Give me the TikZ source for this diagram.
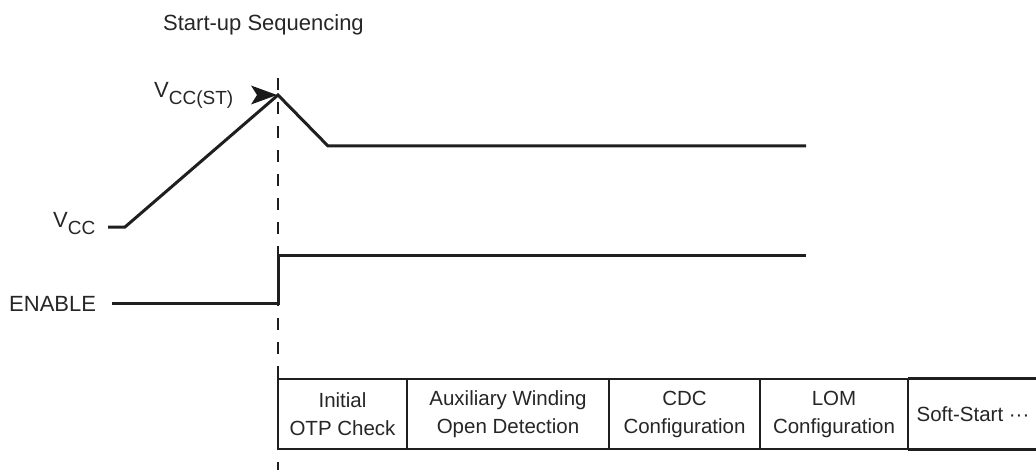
\documentclass[tikz,border=0pt]{standalone}
\usepackage{fontspec}
\setmainfont{Liberation Sans}
\usetikzlibrary{arrows.meta}
\tikzset{
  wave/.style={line width=3pt, line join=miter, color=black!88},
  vline/.style={line width=2.8pt, dash pattern=on 12pt off 12pt, color=black!88},
  lbl/.style={inner sep=0pt, font=\fontsize{22}{26}\selectfont, text=black!85},
  stagebox/.style={draw=black!88, line width=2.8pt, minimum height=70pt, inner sep=0pt, align=center, font=\fontsize{20.5}{28}\selectfont, text=black!85},
  openbox/.style={minimum height=70pt, inner sep=0pt, align=center, font=\fontsize{20.5}{28}\selectfont, text=black!85},
}
\newcommand{\subtxt}[1]{\raisebox{-7pt}{\fontsize{19}{20}\selectfont #1}}
\begin{document}
\begin{tikzpicture}[x=1pt,y=-1pt]
\useasboundingbox (0,0) rectangle (1036,476);
% title
\node[lbl, anchor=base west] (title) at (163,31) {Start-up Sequencing};
% labels
\node[lbl, anchor=base west] (vcclbl) at (53,227) {V\subtxt{CC}};
\node[lbl, anchor=base west] (vccstlbl) at (154,98) {V\subtxt{CC(ST)}};
\node[lbl, anchor=base west] (enlbl) at (9,311) {ENABLE};
% coordinates
\coordinate (vs) at (108,227);
\coordinate (va) at (125,227);
\coordinate (pk) at (278,95);
\coordinate (vb) at (328,146);
\coordinate (ve) at (806,146);
\coordinate (es) at (112,303);
\coordinate (ea) at (278,303);
\coordinate (eb) at (278,255);
\coordinate (ee) at (806,255);
\coordinate (dtop) at (278,78);
\coordinate (dbot) at (278,470);
\coordinate (arrtip) at (277,95);
% dashed line
\draw[vline] (dtop) -- (dbot);
% waveforms
\draw[wave] (vs) -- (va) -- (pk) -- (vb) -- (ve);
\draw[wave] (es) -- (ea) -- (eb) -- (ee);
% arrow head
\fill[black!90] (arrtip) -- ++(-26,-9.5) -- ++(6,9.5) -- ++(-6,9.5) -- cycle;
% stages
\node[stagebox, minimum width=129pt] (s1) at (342.5,414) {Initial\\OTP Check};
\node[stagebox, minimum width=202pt] (s2) at (508,414) {Auxiliary Winding\\Open Detection};
\node[stagebox, minimum width=151pt] (s3) at (684.5,414) {CDC\\Configuration};
\node[stagebox, minimum width=148pt] (s4) at (834,414) {LOM\\Configuration};
\node[openbox, minimum width=130pt] (s5) at (973,414) {Soft-Start ···};
\draw[wave, line width=2.8pt] (s5.north west) -- (s5.north east);
\draw[wave, line width=2.8pt] (s5.south west) -- (s5.south east);
\end{tikzpicture}
\end{document}
